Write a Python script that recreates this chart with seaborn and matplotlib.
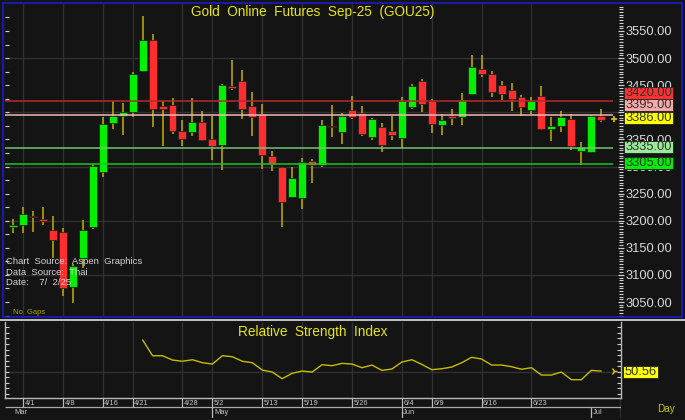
import matplotlib.pyplot as plt
import pandas as pd
import seaborn as sns
from matplotlib.patches import Rectangle
from matplotlib.lines import Line2D
from matplotlib.ticker import MultipleLocator

# Daily candles, index 0..59 (no gaps)
opens = [3189, 3193, 3209, 3203, 3182, 3180, 3078, 3132, 3188, 3290,
         3381, 3394, 3401, 3477, 3533, 3412, 3413, 3365, 3364, 3383,
         3350, 3340, 3448, 3457, 3412, 3397, 3320, 3300, 3243, 3242,
         3311, 3303, 3374, 3364, 3404, 3398, 3355, 3372, 3365, 3353,
         3409, 3457, 3421, 3377, 3393, 3391, 3434, 3480, 3470, 3450,
         3441, 3428, 3404, 3430, 3370, 3374, 3387, 3329, 3327, 3394]
highs = [3204, 3225, 3217, 3225, 3208, 3186, 3121, 3202, 3305, 3392,
         3421, 3418, 3475, 3578, 3544, 3421, 3426, 3386, 3426, 3402,
         3393, 3453, 3496, 3478, 3438, 3416, 3329, 3300, 3300, 3315,
         3314, 3386, 3414, 3398, 3430, 3412, 3390, 3380, 3393, 3428,
         3452, 3462, 3425, 3396, 3407, 3435, 3506, 3506, 3476, 3458,
         3454, 3432, 3428, 3449, 3391, 3402, 3396, 3345, 3395, 3406]
lows = [3178, 3178, 3180, 3192, 3131, 3062, 3048, 3113, 3185, 3281,
        3370, 3359, 3392, 3474, 3372, 3337, 3360, 3337, 3357, 3347,
        3312, 3294, 3442, 3388, 3357, 3295, 3292, 3188, 3243, 3222,
        3270, 3299, 3355, 3342, 3387, 3356, 3349, 3326, 3349, 3334,
        3406, 3401, 3361, 3359, 3377, 3377, 3432, 3466, 3429, 3422,
        3402, 3393, 3397, 3367, 3347, 3364, 3331, 3303, 3324, 3382]
closes = [3191, 3212, 3206, 3199, 3165, 3075, 3117, 3183, 3301, 3378,
          3394, 3401, 3470, 3533, 3406, 3406, 3365, 3350, 3383, 3349,
          3337, 3450, 3445, 3407, 3392, 3321, 3305, 3234, 3278, 3308,
          3303, 3377, 3372, 3393, 3391, 3360, 3387, 3340, 3359, 3421,
          3449, 3416, 3379, 3385, 3390, 3423, 3483, 3471, 3438, 3434,
          3425, 3409, 3421, 3370, 3375, 3391, 3337, 3336, 3393, 3386]

# RSI starts at candle 13
rsi_start = 13
rsi = [78.6, 64.4, 64.4, 60.5, 59.4, 60.8, 58.1, 56.9, 64.4, 63.5,
       59.4, 58.1, 51.5, 49.7, 43.7, 48.6, 50.6, 49.7, 56.3, 55.4,
       57.5, 56.9, 53.6, 56.0, 51.2, 52.4, 58.7, 60.8, 56.6, 51.8,
       52.7, 54.2, 58.1, 63.0, 61.4, 56.0, 56.0, 54.5, 52.2, 53.6,
       47.0, 47.0, 49.7, 42.8, 42.8, 51.2, 50.56]

# support / resistance levels
levels = [3420, 3395, 3335, 3305]
level_colors = ['#b82a2a', '#f2b8b8', '#72c472', '#1fc41f']
last_price = 3386

price_ticks = list(range(3050, 3551, 50))
date_pos = [1, 5, 9, 12, 17, 20, 25, 29, 34, 39, 42, 47, 52]
date_labels = ['4/1', '4/8', '4/16', '4/21', '4/28', '5/2', '5/13',
               '5/19', '5/26', '6/4', '6/9', '6/16', '6/23']
month_pos = [0, 20, 39, 58]
month_labels = ['Mar', 'May', 'Jun', 'Jul']

df = pd.DataFrame({'open': opens, 'high': highs, 'low': lows, 'close': closes})
df['up'] = df['close'] >= df['open']
df_rsi = pd.DataFrame({'idx': range(rsi_start, rsi_start + len(rsi)), 'rsi': rsi})

sns.set_style('dark')
plt.rcParams['font.family'] = ['Liberation Sans', 'DejaVu Sans']

W, H = 685, 420
BG = '#141414'
GRID = '#303030'
AXIS = '#d0d0d0'
YELLOW = '#e6e614'
WICK = '#c2b000'


def px_rect(x0, y0, x1, y1):
    return [x0 / W, 1 - y1 / H, (x1 - x0) / W, (y1 - y0) / H]


fig = plt.figure(figsize=(6.85, 4.2), dpi=100, facecolor=BG)
xlim = (-0.80, 60.98)

# ---- main price panel ----
ax = fig.add_axes(px_rect(5, 4, 621, 316), facecolor=BG)
ax.set_xlim(*xlim)
ax.set_ylim(3024.2, 3599.8)
for s in ax.spines.values():
    s.set_visible(False)
ax.set_xticks([])
ax.yaxis.set_major_locator(MultipleLocator(25))
ax.tick_params(axis='y', left=True, right=False, labelleft=False,
               direction='in', length=3, width=0.8, color=AXIS)

for p in range(3100, 3600, 100):
    ax.axhline(p, color=GRID, lw=1, zorder=0)
for d in date_pos:
    ax.axvline(d, color=GRID, lw=1, zorder=0)

ax.vlines(df.index, df['low'], df['high'], color=WICK, lw=1.1, zorder=2)
body_low = df[['open', 'close']].min(axis=1)
body_h = (df['close'] - df['open']).abs().clip(lower=2.5)
ax.bar(df.index, body_h, bottom=body_low, width=0.8,
       color=['#00f000' if u else '#ff2e2e' for u in df['up']],
       edgecolor='#1c1c1c', linewidth=0.5, zorder=3)

for lv, c in zip(levels, level_colors):
    ax.hlines(lv, xlim[0], 60.2, color=c, lw=1.1, zorder=4)
ax.plot([60.3], [last_price + 2], marker='+', ms=5, mew=1.2, color='#d8c800', zorder=5)

ax.text(0.5, 0.975, 'Gold  Online  Futures  Sep-25  (GOU25)', transform=ax.transAxes,
        ha='center', va='center', color=YELLOW, fontsize=9.8)
src = ['Chart  Source:  Aspen  Graphics', 'Data  Source:  Thai', 'Date:    7/  2/25']
for k, t in enumerate(src):
    fig.text(6 / W, 1 - (262 + 10.3 * k) / H, t, color='#d4d4d4', fontsize=6.8,
             ha='left', va='center')
fig.text(13 / W, 1 - 313 / H, 'No  Gaps', color='#a8a800', fontsize=5.4,
         ha='left', va='center')

tw = ax.twinx()
tw.set_ylim(ax.get_ylim())
for s in tw.spines.values():
    s.set_visible(False)
tw.set_yticks(price_ticks)
# 3400.00 sits fully behind the price boxes in the original
tw.set_yticklabels(['' if v == 3400 else f'{v:.2f}' for v in price_ticks])
tw.yaxis.set_minor_locator(MultipleLocator(5))
tw.tick_params(axis='y', which='major', direction='inout', length=5, width=0.9,
               color=AXIS, labelcolor='#d8d8d8', labelsize=9.3, pad=0.5)
tw.tick_params(axis='y', which='minor', direction='inout', length=3, width=0.8, color=AXIS)
tw.grid(False)

# right-hand price boxes
boxes = [(3420, 93.2, '#ff3030'), (3395, 105.2, '#f4a8a8'), (3386, 118.3, '#ffff00'),
         (3335, 146.7, '#98ec98'), (3305, 163.2, '#00ec00')]
for val, yc, fc in boxes:
    fig.add_artist(Rectangle((624 / W, 1 - (yc + 5.9) / H), 49 / W, 11.8 / H,
                             transform=fig.transFigure, facecolor=fc,
                             edgecolor='#202020', lw=0.6, zorder=5))
    fig.text(648.5 / W, 1 - yc / H, f'{val:.2f}', color='#333333', fontsize=9.3,
             ha='center', va='center', zorder=6)

# ---- RSI panel ----
ar = fig.add_axes(px_rect(5, 322, 621, 398), facecolor=BG)
ar.set_xlim(*xlim)
ar.set_ylim(26.3, 94.8)
ar.set_xticks([])
for d in date_pos:
    ar.axvline(d, color=GRID, lw=1, zorder=0)
ar.axhline(50, color=GRID, lw=1, zorder=0)
sns.lineplot(data=df_rsi, x='idx', y='rsi', ax=ar, color='#c8bc00', lw=1, legend=False)
ar.plot([60.3], [50.56], marker='4', ms=5, mew=1, color='#d8c800', clip_on=False)
ar.yaxis.set_major_locator(MultipleLocator(5))
ar.tick_params(axis='y', left=True, right=True, labelleft=False, labelright=False,
               direction='in', length=3, width=0.8, color=AXIS)
ar.set_xlabel('')
ar.set_ylabel('')
ar.grid(False)
ar.spines['top'].set_visible(False)
for k in ['left', 'right', 'bottom']:
    ar.spines[k].set_color('#b8b8b8')
    ar.spines[k].set_linewidth(1)
ar.text(0.5, 0.87, 'Relative  Strength  Index', transform=ar.transAxes,
        ha='center', va='center', color=YELLOW, fontsize=9.8)

fig.add_artist(Rectangle((623.3 / W, 1 - 377.7 / H), 35 / W, 11.7 / H,
                         transform=fig.transFigure, facecolor='#ffff00',
                         edgecolor='#202020', lw=0.6, zorder=5))
fig.text(640.8 / W, 1 - 371.9 / H, f'{rsi[-1]:.2f}', color='#333333', fontsize=9.3,
         ha='center', va='center', zorder=6)

# ---- date rows ----
ad = fig.add_axes(px_rect(5, 398, 621, 418), facecolor=BG)
ad.set_xlim(*xlim)
ad.set_ylim(20, 0)
ad.axis('off')
ad.hlines(9.3, xlim[0], xlim[1], color='#a8a8a8', lw=0.9)
ad.vlines(date_pos, 0, 9.3, color='#b8b8b8', lw=0.9)
for d, t in zip(date_pos, date_labels):
    ad.text(d + 0.15, 5.2, t, color='#c4c4c4', fontsize=5.4, ha='left', va='center')
ad.vlines(month_pos[1:], 9.3, 20, color='#b8b8b8', lw=0.9)
for m, t in zip(month_pos, month_labels):
    ad.text(m + 0.15, 14.8, t, color='#c4c4c4', fontsize=5.4, ha='left', va='center')
ad.vlines(xlim[1], 0, 20, color='#b8b8b8', lw=1)
fig.text(657 / W, 1 - 408.7 / H, 'Day', color='#c8c800', fontsize=7.2,
         ha='left', va='center')

# frame and separator
fig.add_artist(Rectangle((3 / W, 1 - 317 / H), 679 / W, 314 / H, transform=fig.transFigure,
                         fill=False, edgecolor='#1c1cc8', lw=1.2, zorder=10))
fig.add_artist(Line2D([0, 1], [1 - 320.3 / H] * 2, transform=fig.transFigure,
                      color='#d0d0d0', lw=1.3, zorder=10))

fig.savefig('out.png', dpi=100, facecolor=BG)
